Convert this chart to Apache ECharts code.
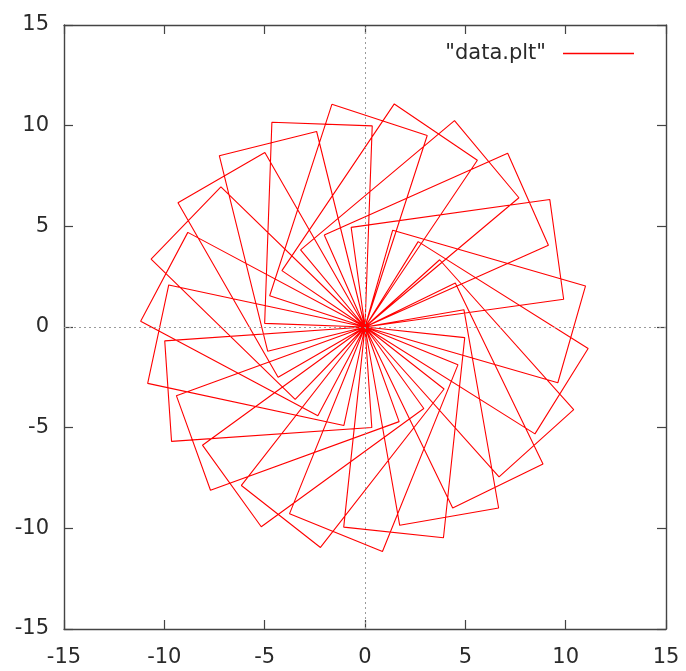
<!DOCTYPE html>
<html>
<head>
<meta charset="utf-8">
<script src="https://cdn.jsdelivr.net/npm/echarts@6/dist/echarts.min.js"></script>
<style>
  html, body { margin: 0; padding: 0; background: #ffffff; }
  #chart { width: 686px; height: 671px; }
</style>
</head>
<body>
<div id="chart"></div>
<script>
// Each rectangle starts at the origin, runs to its long-side corner,
// then the far corner, then the short-side corner and back to the origin.
const origin = [0, 0];

const longCorner = [
  [9.61, -2.77], [8.47, -5.31], [6.68, -7.44], [4.37, -8.99], [1.73, -9.85],
  [-1.06, -9.94], [-3.76, -9.27], [-6.16, -7.87], [-8.10, -5.87], [-9.40, -3.41],
  [-9.98, -0.69], [-9.78, 2.09], [-8.83, 4.70], [-7.18, 6.96], [-4.99, 8.67],
  [-2.41, 9.71], [0.36, 9.99], [3.10, 9.51], [5.60, 8.28], [7.67, 6.42],
  [9.14, 4.06], [9.90, 1.38]
];

const farCorner = [
  [10.99, 2.04], [11.12, -1.07], [10.40, -4.10], [8.87, -6.80], [6.66, -8.99],
  [3.91, -10.47], [0.87, -11.15], [-2.22, -10.95], [-5.17, -9.92], [-7.70, -8.11],
  [-9.64, -5.68], [-10.83, -2.80], [-11.18, 0.29], [-10.66, 3.37], [-9.32, 6.17],
  [-7.26, 8.51], [-4.64, 10.17], [-1.65, 11.06], [1.46, 11.08], [4.46, 10.25],
  [7.11, 8.63], [9.21, 6.33]
];

const shortCorner = [
  [1.38, 4.81], [2.65, 4.24], [3.72, 3.34], [4.50, 2.19], [4.93, 0.86],
  [4.97, -0.53], [4.63, -1.88], [3.94, -3.08], [2.93, -4.05], [1.70, -4.70],
  [0.34, -4.99], [-1.05, -4.89], [-2.35, -4.41], [-3.48, -3.59], [-4.33, -2.50],
  [-4.85, -1.20], [-5.00, 0.18], [-4.75, 1.55], [-4.14, 2.80], [-3.21, 3.83],
  [-2.03, 4.57], [-0.69, 4.95]
];

const axisTicks = [-15, -10, -5, 0, 5, 10, 15];
const seriesName = '"data.plt"';

// Chain all rectangles into one polyline through the origin
const path = [];
for (let i = 0; i < farCorner.length; i++) {
  path.push(origin, longCorner[i], farCorner[i], shortCorner[i], origin);
}

const labelFont = { fontFamily: 'DejaVu Sans', fontSize: 21, color: '#2a2a2a' };
const tickStyle = { show: true, inside: true, length: 9, lineStyle: { color: '#444', width: 1.2 } };
// The four axis lines together form the frame around the plot
const frameLine = { show: true, onZero: false, lineStyle: { color: '#444', width: 1.4 } };
const axisMin = axisTicks[0];
const axisMax = axisTicks[axisTicks.length - 1];
const step = axisTicks[1] - axisTicks[0];

function makeAxis(position, withLabels, margin) {
  return {
    type: 'value', position: position, min: axisMin, max: axisMax, interval: step,
    axisLine: frameLine, splitLine: { show: false }, axisTick: tickStyle,
    axisLabel: withLabels ? Object.assign({ show: true, margin: margin }, labelFont) : { show: false }
  };
}

const chart = echarts.init(document.getElementById('chart'), null, { renderer: 'canvas' });

chart.setOption({
  backgroundColor: '#ffffff',
  animation: false,
  grid: { left: 64, right: 20, top: 25, bottom: 42, show: false },
  legend: {
    data: [{ name: seriesName, icon: 'rect' }],
    right: 47, top: 38,
    align: 'right',
    itemWidth: 71, itemHeight: 1.6,
    textStyle: { fontFamily: 'DejaVu Sans', fontSize: 21, color: '#2a2a2a', padding: [0, 12, 0, 0] }
  },
  xAxis: [makeAxis('bottom', true, 18), makeAxis('top', false, 0)],
  yAxis: [makeAxis('left', true, 15), makeAxis('right', false, 0)],
  series: [
    {
      name: 'zero-axes',
      type: 'line',
      data: [],
      z: 1,
      silent: true,
      markLine: {
        silent: true,
        symbol: ['none', 'none'],
        label: { show: false },
        lineStyle: { type: [2, 3], color: '#9a9a9a', width: 1 },
        data: [{ xAxis: 0 }, { yAxis: 0 }]
      }
    },
    {
      name: seriesName,
      type: 'line',
      data: path,
      z: 3,
      showSymbol: false,
      symbol: 'none',
      lineStyle: { color: '#ff0000', width: 1.1 },
      itemStyle: { color: '#ff0000' }
    }
  ]
});
</script>
</body>
</html>
